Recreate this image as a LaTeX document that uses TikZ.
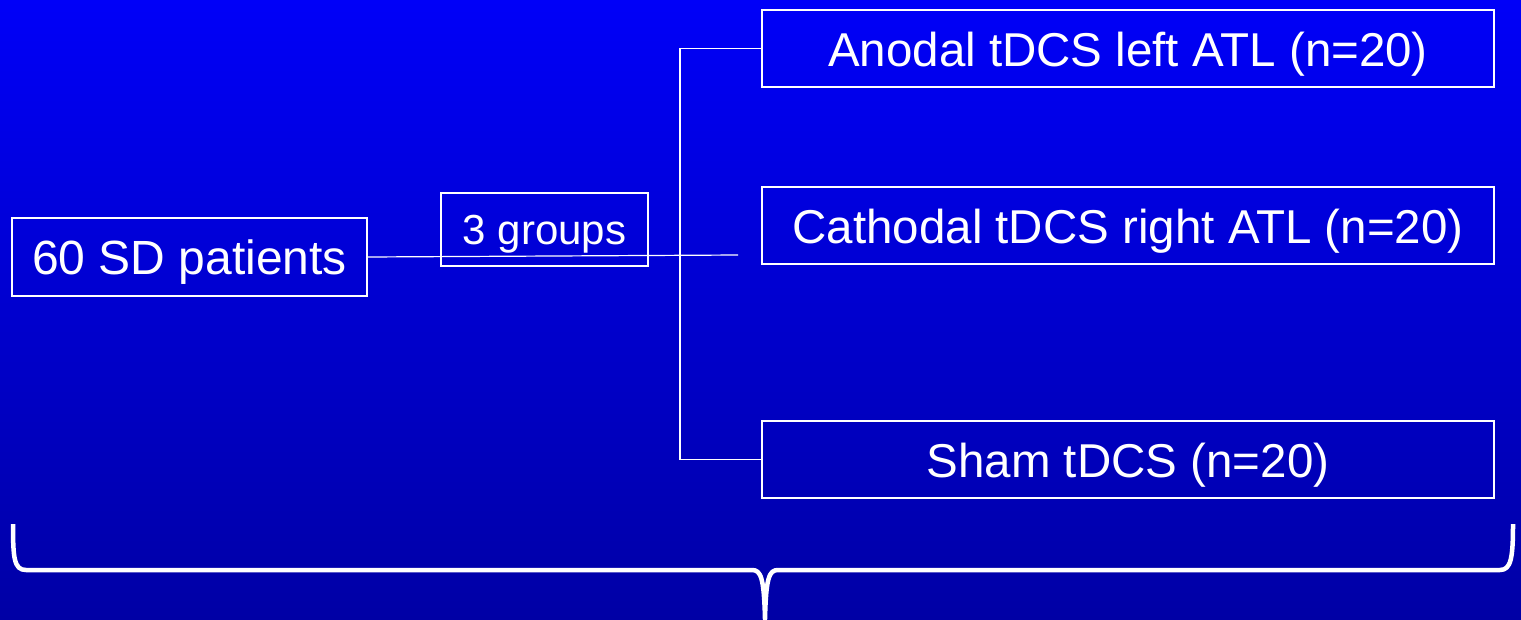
\documentclass[tikz,border=0pt]{standalone}
\usepackage{fontspec}
\setmainfont{Liberation Sans}
\definecolor{bgtop}{RGB}{0,0,248}
\definecolor{bgbot}{RGB}{0,0,165}
\begin{document}
\begin{tikzpicture}[x=1pt,y=-1pt,
  armbox/.style={draw=white,line width=1.2pt,text=white,minimum width=732pt,minimum height=77pt,
    inner sep=0pt,font=\fontsize{47.5}{56}\selectfont,text height=36pt,text depth=0pt},
  plainbox/.style={draw=white,line width=1.2pt,text=white,inner sep=0pt,text depth=0pt},
  link/.style={draw=white,line width=1.2pt},
  brace/.style={draw=white,line width=4.5pt,line join=round}]
  % gradient backdrop, also fixing the page size
  \shade[top color=bgtop,bottom color=bgbot] (0,0) rectangle (1521,619);
  \useasboundingbox (0,0) rectangle (1521,619);

  % patients and grouping
  \node[plainbox,minimum width=355pt,minimum height=78pt,font=\fontsize{48}{56}\selectfont,text height=34pt]
    (sd) at (189.5,257) {60 SD patients};
  \node[plainbox,minimum width=207pt,minimum height=73pt,font=\fontsize{42}{50}\selectfont,text height=30pt]
    (grp) at (544.5,229.5) {3 groups};

  % treatment arms
  \node[armbox] (an) at (1128,48.5) {Anodal tDCS left ATL (n=20)};
  \node[armbox] (ca) at (1128,225.5) {Cathodal tDCS right ATL (n=20)};
  \node[armbox] (sh) at (1128,459.5) {Sham tDCS (n=20)};

  % connectors
  \coordinate (split) at (738,255);
  \coordinate (bus) at (680,0);
  \draw[link] (sd.east) -- (split);
  \draw[link] (an.west) -- (an.west -| bus) -- (sh.west -| bus) -- (sh.west);

  % curly brace under everything
  \draw[brace] (13,524) .. controls (13,558) and (14,570) .. (26,570) -- (752,570)
    .. controls (761,570) and (764,578) .. (765,619)
    .. controls (766,578) and (769,570) .. (778,570) -- (1500,570)
    .. controls (1511,570) and (1513,558) .. (1513,524);
\end{tikzpicture}
\end{document}
